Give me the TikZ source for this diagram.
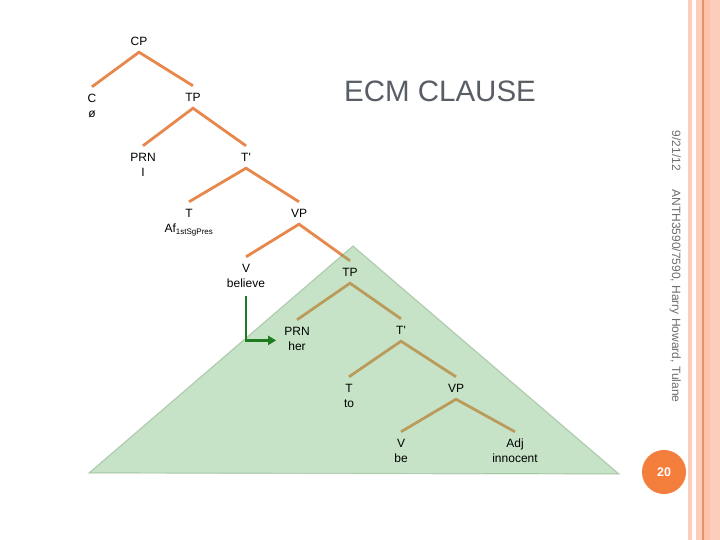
\documentclass[tikz,border=0pt]{standalone}
\usepackage{fontspec}
\setmainfont{Liberation Sans}
\usepackage{xcolor}
\definecolor{ecmOrange}{HTML}{E8874B}
\definecolor{ecmGreen}{HTML}{75BB75}
\definecolor{ecmArrow}{HTML}{1E7B1E}
\definecolor{ecmTitle}{HTML}{595E66}
\definecolor{ecmGray}{HTML}{6E6E6E}
\definecolor{ecmBadge}{HTML}{F47E3C}
\definecolor{ecmStripe}{HTML}{FBCDBA}
\definecolor{ecmStripeDark}{HTML}{E2926C}
\definecolor{ecmStripeDeep}{HTML}{FFC2A8}
\usepackage{tikz}
\usetikzlibrary{
  arrows.meta,
  backgrounds
}
\tikzset{
  cat/.style={
    inner sep=0pt,text height=8.6pt,text depth=0pt,
    font=\fontsize{12}{14}\selectfont
  },
  word/.style={
    inner sep=0pt,text height=8.6pt,text depth=0pt,
    font=\fontsize{12}{14}\selectfont,yshift=-6.4pt
  },
  branch/.style={-,line width=2.8pt,color=ecmOrange},
  ecmarr/.style={-{Triangle[length=8pt,width=9pt]},line width=2.6pt,color=ecmArrow},
  phrase/.style={fill=ecmGreen,fill opacity=0.4,draw=ecmGreen!70!black,draw opacity=0.3,line width=1.2pt},
  sidetext/.style={rotate=-90,anchor=base,font=\fontsize{12}{14}\selectfont,text=ecmGray},
  badge/.style={circle,fill=ecmBadge,minimum size=44pt,inner sep=0pt,
    text=white,font=\fontsize{12.5}{14}\selectfont\bfseries},
  stripe/.style={fill=ecmStripe}
}

\begin{document}
\begin{tikzpicture}[x=1pt,y=-1pt]

\useasboundingbox (0,0) rectangle (720,540);

%% ── Title ────────────────────────────────────────────────
\node[anchor=base,font=\fontsize{29.5}{32}\selectfont,text=ecmTitle] (title) at (440,102) {ECM CLAUSE};

%% ── Matrix clause ────────────────────────────────────────
\node[cat] (cp) at (139,41) {CP};
\node[cat,label={[word,name=cw]below:ø}] (c) at (92,98) {C};
\node[cat] (tp1) at (193,97) {TP};
\node[cat,label={[word,name=prn1w]below:I}] (prn1) at (143,157) {PRN};
\node[cat] (tbar1) at (246,157) {T\textquotesingle};
\node[cat,label={[word,name=t1w]below:Af\textsubscript{1stSgPres}}] (t1) at (189,213) {T};
\node[cat] (vp1) at (299,213) {VP};
\node[cat,label={[word,name=v1w]below:believe}] (v1) at (246,268) {V};

%% ── Embedded clause ──────────────────────────────────────
\node[cat] (tp2) at (350,272) {TP};
\node[cat,label={[word,name=prn2w]below:her}] (prn2) at (297,331) {PRN};
\node[cat] (tbar2) at (401,330) {T\textquotesingle};
\node[cat,label={[word,name=t2w]below:to}] (t2) at (349,388) {T};
\node[cat] (vp2) at (456,388) {VP};
\node[cat,label={[word,name=v2w]below:be}] (v2) at (401,443) {V};
\node[cat,label={[word,name=adjw]below:innocent}] (adj) at (515,443) {Adj};

\coordinate (apex) at (353,246);
\coordinate (left) at (89,473);
\coordinate (right) at (619,474);

%% ── Branches and shading ─────────────────────────────────
\begin{scope}[on background layer]
  \fill[white] (0,0) rectangle (720,540);
  \fill[stripe] (688,0) rectangle (692,540);
  \fill[stripe] (696,0) rectangle (720,540);
  \fill[ecmStripeDeep] (703,0) rectangle (710,540);
  \fill[ecmStripeDark] (702,0) rectangle (703.5,540);
  \foreach \p/\l/\r in {cp/c/tp1,tp1/prn1/tbar1,tbar1/t1/vp1,vp1/v1/tp2,
                        tp2/prn2/tbar2,tbar2/t2/vp2,vp2/v2/adj}
    \draw[branch] ([yshift=6.7pt]\l.north) -- ([yshift=-6.7pt]\p.south) -- ([yshift=6.7pt]\r.north);
  \draw[phrase] (apex) -- (left) -- (right) -- cycle;
\end{scope}

%% ── ECM arrow ────────────────────────────────────────────
\draw[ecmarr] ([yshift=-7.7pt]v1w.south) |- ([xshift=-12pt,yshift=6pt]prn2w.west);

%% ── Side text and page number ────────────────────────────
\node[sidetext] (date) at (672,151) {9/21/12};
\node[sidetext] (course) at (672,296) {ANTH3590/7590, Harry Howard, Tulane};
\node[badge] (page) at (664,472) {20};

\end{tikzpicture}
\end{document}
